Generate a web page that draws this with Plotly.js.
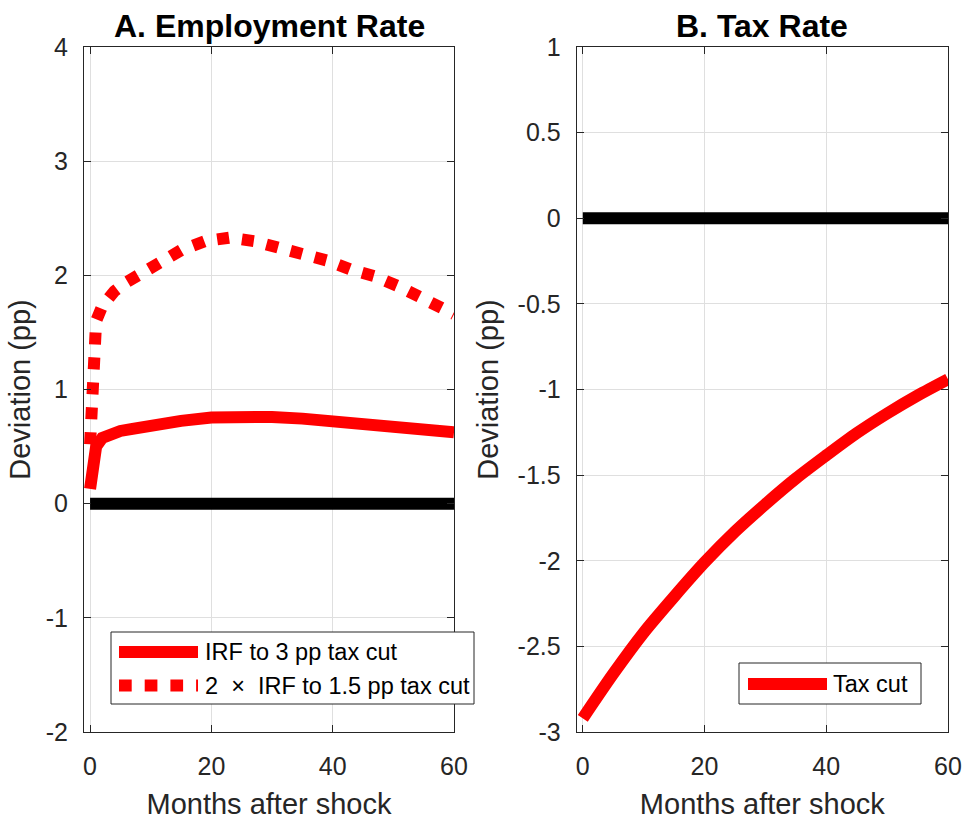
<!DOCTYPE html>
<html>
<head>
<meta charset="utf-8">
<script src="https://cdn.plot.ly/plotly-3.0.1.min.js"></script>
<style>html,body{margin:0;padding:0;background:#fff;}#chart{width:967px;height:820px;}</style>
</head>
<body>
<div id="chart"></div>
<script>
// ---------- data ----------
// Panel A: employment rate deviation (pp)
const monthsA_solid = [0, 1, 2, 3, 4, 5, 7, 10, 15, 20, 25, 30, 35, 40, 45, 50, 55, 60];
const irf3pp        = [0.13, 0.50, 0.575, 0.605, 0.625, 0.637, 0.655, 0.685, 0.725, 0.755, 0.765, 0.76, 0.745, 0.725, 0.705, 0.685, 0.66, 0.625];
const monthsA_dot   = [0, 1, 2, 3, 4, 6, 8, 11, 15, 19, 23, 27, 31, 35, 39, 43, 47, 51, 55, 60];
const irf2x15pp     = [0.52, 1.60, 1.73, 1.81, 1.86, 1.94, 2.00, 2.10, 2.22, 2.30, 2.33, 2.30, 2.24, 2.20, 2.13, 2.05, 1.99, 1.90, 1.80, 1.66];
// Panel B: tax rate deviation (pp)
const monthsB  = [0, 5, 10, 15, 20, 25, 30, 35, 40, 45, 50, 55, 60];
const taxCut   = [-2.92, -2.66, -2.42, -2.21, -2.01, -1.83, -1.67, -1.52, -1.385, -1.255, -1.14, -1.035, -0.94];
// zero reference lines
const zeroX = [0, 60];
const zeroY = [0, 0];

// tick labels
const xTickVals = [0, 20, 40, 60];
const xTickText = ['0', '20', '40', '60'];
const yA_vals = [-2, -1, 0, 1, 2, 3, 4];
const yA_text = ['-2', '-1', '0', '1', '2', '3', '4'];
const yB_vals = [-3, -2.5, -2, -1.5, -1, -0.5, 0, 0.5, 1];
const yB_text = ['-3', '-2.5', '-2', '-1.5', '-1', '-0.5', '0', '0.5', '1'];

// texts
const titleA = 'A. Employment Rate';
const titleB = 'B. Tax Rate';
const xTitle = 'Months after shock';
const yTitle = 'Deviation (pp)';
const legendA = ['IRF to 3 pp tax cut', '2\u00A0\u00A0\u00D7\u00A0\u00A0IRF to 1.5 pp tax cut'];
const legendB = ['Tax cut'];

// ---------- styling ----------
const FONT = 'Liberation Sans, Arial, Helvetica, sans-serif';
const RED = 'rgb(255,0,0)';
const AXC = '#262626';
const GRID = '#dfdfdf';
const LW = 12;

const traces = [
  {x: zeroX, y: zeroY, xaxis: 'x', yaxis: 'y', mode: 'lines', line: {color: '#000', width: LW}, showlegend: false, hoverinfo: 'skip'},
  {x: monthsA_solid, y: irf3pp, xaxis: 'x', yaxis: 'y', mode: 'lines', name: legendA[0], line: {color: RED, width: LW}, showlegend: false},
  {x: monthsA_dot, y: irf2x15pp, xaxis: 'x', yaxis: 'y', mode: 'lines', name: legendA[1], line: {color: RED, width: LW, dash: '12px,13px'}, showlegend: false},
  {x: zeroX, y: zeroY, xaxis: 'x2', yaxis: 'y2', mode: 'lines', line: {color: '#000', width: LW}, showlegend: false, hoverinfo: 'skip'},
  {x: monthsB, y: taxCut, xaxis: 'x2', yaxis: 'y2', mode: 'lines', name: legendB[0], line: {color: RED, width: LW, shape: 'spline', smoothing: 0.8}, showlegend: false}
];

function xaxisCfg(domain, anchor) {
  return {
    domain: domain, anchor: anchor, range: [-1, 60],
    tickmode: 'array', tickvals: xTickVals, ticktext: xTickText,
    ticks: 'inside', ticklen: 7, tickcolor: AXC, tickwidth: 1,
    showline: true, linecolor: AXC, linewidth: 1, mirror: 'allticks',
    showgrid: true, gridcolor: GRID, gridwidth: 1, zeroline: false,
    tickfont: {family: FONT, size: 25, color: AXC},
    ticklabelstandoff: 12,
    title: {text: xTitle, font: {family: FONT, size: 29, color: AXC}, standoff: 14}
  };
}
function yaxisCfg(range, vals, text, anchor, standoff) {
  return {
    domain: [0, 1], anchor: anchor, range: range,
    tickmode: 'array', tickvals: vals, ticktext: text,
    ticks: 'inside', ticklen: 7, tickcolor: AXC, tickwidth: 1,
    showline: true, linecolor: AXC, linewidth: 1, mirror: 'allticks',
    showgrid: true, gridcolor: GRID, gridwidth: 1, zeroline: false,
    tickfont: {family: FONT, size: 25, color: AXC},
    ticklabelstandoff: 10,
    title: {text: yTitle, font: {family: FONT, size: 29, color: AXC}, standoff: standoff}
  };
}

// plot area: x 84..948, y 47..732 (px)
const L = 84, T = 47, PW = 864, PH = 685;
function px(x) { return (x - L) / PW; }
function py(y) { return (T + PH - y) / PH; }

const shapes = [
  // legend A box
  {type: 'rect', xref: 'paper', yref: 'paper', x0: px(111), x1: px(474), y0: py(704), y1: py(632), fillcolor: '#fff', line: {color: AXC, width: 1}},
  {type: 'line', xref: 'paper', yref: 'paper', x0: px(119), x1: px(198), y0: py(652), y1: py(652), line: {color: RED, width: LW}},
  {type: 'line', xref: 'paper', yref: 'paper', x0: px(119), x1: px(198), y0: py(685.5), y1: py(685.5), line: {color: RED, width: LW, dash: '12.7px,13px'}},
  // legend B box
  {type: 'rect', xref: 'paper', yref: 'paper', x0: px(739), x1: px(921), y0: py(704), y1: py(663), fillcolor: '#fff', line: {color: AXC, width: 1}},
  {type: 'line', xref: 'paper', yref: 'paper', x0: px(748), x1: px(827), y0: py(684), y1: py(684), line: {color: RED, width: LW}}
];

const annotations = [
  {text: '<b>' + titleA + '</b>', xref: 'x domain', yref: 'y domain', x: 0.5, y: 1, xanchor: 'center', yanchor: 'bottom', yshift: 1, showarrow: false, font: {family: FONT, size: 32, color: '#000'}},
  {text: '<b>' + titleB + '</b>', xref: 'x2 domain', yref: 'y2 domain', x: 0.5, y: 1, xanchor: 'center', yanchor: 'bottom', yshift: 1, showarrow: false, font: {family: FONT, size: 32, color: '#000'}},
  {text: legendA[0], xref: 'paper', yref: 'paper', x: px(203), y: py(652), xanchor: 'left', yanchor: 'middle', showarrow: false, font: {family: FONT, size: 23.5, color: '#000'}},
  {text: legendA[1], xref: 'paper', yref: 'paper', x: px(203), y: py(686), xanchor: 'left', yanchor: 'middle', showarrow: false, font: {family: FONT, size: 23.5, color: '#000'}},
  {text: legendB[0], xref: 'paper', yref: 'paper', x: px(831), y: py(684), xanchor: 'left', yanchor: 'middle', showarrow: false, font: {family: FONT, size: 23.5, color: '#000'}}
];

const layout = {
  width: 967, height: 820,
  margin: {l: L, r: 967 - L - PW, t: T, b: 820 - T - PH, pad: 0},
  paper_bgcolor: '#fff', plot_bgcolor: '#fff',
  showlegend: false,
  font: {family: FONT, color: AXC},
  xaxis: xaxisCfg([0, px(454)], 'y'),
  yaxis: yaxisCfg([-2, 4], yA_vals, yA_text, 'x', 6),
  xaxis2: xaxisCfg([px(576.7), 1], 'y2'),
  yaxis2: yaxisCfg([-3, 1], yB_vals, yB_text, 'x2', 10),
  shapes: shapes,
  annotations: annotations
};

Plotly.newPlot('chart', traces, layout, {displayModeBar: false, staticPlot: true});
</script>
</body>
</html>
